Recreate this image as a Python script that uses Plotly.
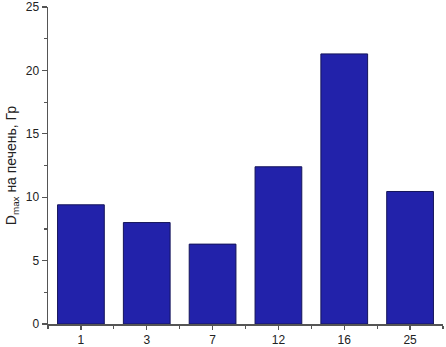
import plotly.graph_objects as go

categories = ["1", "3", "7", "12", "16", "25"]
values = [9.4, 8.0, 6.3, 12.4, 21.3, 10.45]
y_ticks = [0, 5, 10, 15, 20, 25]

positions = list(range(len(categories)))

fig = go.Figure(go.Bar(
    x=positions, y=values, width=0.71,
    marker=dict(color="#2222AA", line=dict(color="#14145a", width=1)),
    hoverinfo="skip",
))

axis_color = "#555555"
fig.update_layout(
    width=446, height=347,
    margin=dict(l=48, r=3, t=7, b=23, autoexpand=False),
    paper_bgcolor="white", plot_bgcolor="white",
    font=dict(family="Liberation Sans, Arial, sans-serif", color="#222222"),
    showlegend=False,
    xaxis=dict(
        range=[-0.5, 5.5], tickvals=positions, ticktext=categories,
        automargin=False,
        showline=True, linecolor=axis_color, linewidth=1.5,
        ticks="outside", ticklen=4, tickwidth=1.2, tickcolor=axis_color,
        showgrid=False, zeroline=False, tickfont=dict(size=12),
        minor=dict(tick0=0.5, dtick=1, ticks="outside", ticklen=3,
                   tickwidth=1.2, tickcolor=axis_color, showgrid=False),
    ),
    yaxis=dict(
        range=[0, 25], tickvals=y_ticks, automargin=False,
        showline=True, linecolor=axis_color, linewidth=1.5,
        ticks="outside", ticklen=5, tickwidth=1.2, tickcolor=axis_color,
        showgrid=False, zeroline=False, tickfont=dict(size=12),
        minor=dict(tick0=0, dtick=2.5, ticks="outside", ticklen=3,
                   tickwidth=1.2, tickcolor=axis_color, showgrid=False),
        title=dict(text="D<sub>max</sub> на печень, Гр", font=dict(size=14), standoff=6),
    ),
)

fig.write_html("out.html",
               config={"displayModeBar": False, "staticPlot": True},
               post_script="document.body.style.margin='0';document.body.style.overflow='hidden';")
